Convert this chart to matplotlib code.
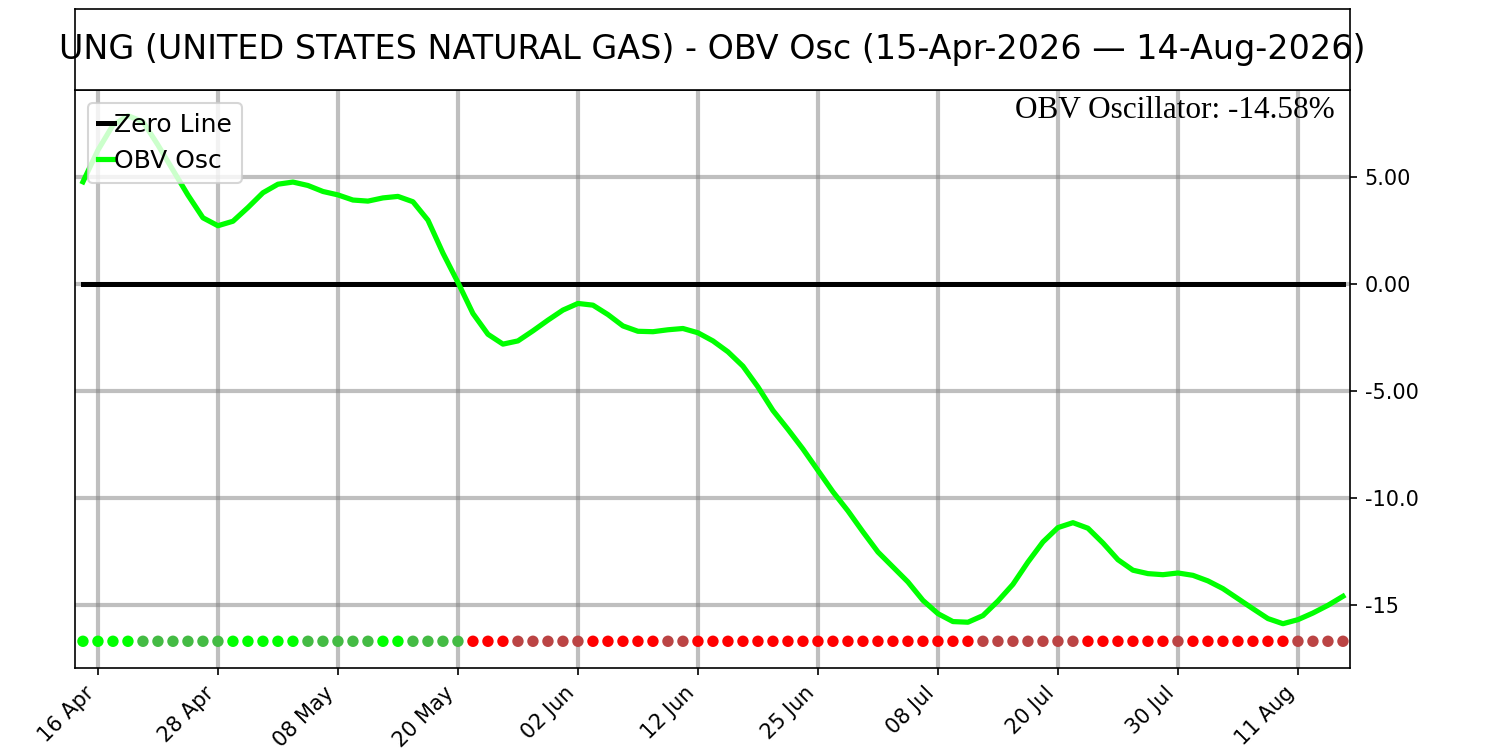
import numpy as np
import pandas as pd
import matplotlib
matplotlib.use("Agg")
import matplotlib.pyplot as plt

# ---- data ----
start_date = "2026-04-15"
end_date = "2026-08-14"
holidays = ["2026-05-25", "2026-06-19", "2026-07-03"]

obv_osc = [
    4.78, 6.26, 7.43, 7.87, 7.59, 6.50, 5.33, 4.16, 3.10, 2.73,
    2.94, 3.58, 4.27, 4.67, 4.77, 4.61, 4.33, 4.17, 3.93, 3.88,
    4.03, 4.10, 3.85, 2.99, 1.45, 0.08, -1.37, -2.34, -2.80, -2.65,
    -2.18, -1.68, -1.21, -0.90, -0.98, -1.42, -1.95, -2.20, -2.22, -2.13,
    -2.07, -2.27, -2.65, -3.16, -3.83, -4.80, -5.90, -6.78, -7.70, -8.70,
    -9.70, -10.59, -11.57, -12.51, -13.21, -13.91, -14.77, -15.39, -15.76, -15.79,
    -15.48, -14.80, -14.02, -12.98, -12.04, -11.37, -11.14, -11.40, -12.09, -12.87,
    -13.36, -13.52, -13.57, -13.49, -13.60, -13.86, -14.22, -14.69, -15.16, -15.62,
    -15.86, -15.67, -15.36, -15.00, -14.58,
]

ytick_values = [5, 0, -5, -10, -15]
ytick_labels = ["5.00", "0.00", "-5.00", "-10.0", "-15"]
title_text = "UNG (UNITED STATES NATURAL GAS) - OBV Osc (15-Apr-2026 \u2014 14-Aug-2026)"
annot_text = "OBV Oscillator: -14.58%"

# ---- derived ----
dates = pd.bdate_range(start_date, end_date, freq="C", holidays=holidays)
n = len(obv_osc)
x = np.arange(n)
vals = np.array(obv_osc)

colors = []
for i, v in enumerate(vals):
    rising = True if i == 0 else v >= vals[i - 1]
    if v >= 0:
        colors.append("#00ff00" if rising else "#44bb44")
    else:
        colors.append("#bb4444" if rising else "#ff0000")

tick_idx = list(range(1, n, 8))
tick_lbls = [dates[i].strftime("%d %b") for i in tick_idx]

# ---- figure ----
fig = plt.figure(figsize=(10, 5), dpi=150)
ax = fig.add_axes([0.05, 0.109, 0.85, 0.771])
tax = fig.add_axes([0.05, 0.88, 0.85, 0.108])

tax.set_xticks([])
tax.set_yticks([])
tax.text(0.5, 0.5, title_text, ha="center", va="center", fontsize=16,
         transform=tax.transAxes)

ax.grid(True, color="gray", alpha=0.5, linewidth=2)
ax.set_axisbelow(True)
ax.plot(x, np.zeros(n), color="black", linewidth=2.4, label="Zero Line", zorder=3)
ax.plot(x, vals, color="#00ff00", linewidth=2.5, label="OBV Osc", zorder=4)
ax.scatter(x, np.full(n, -16.68), c=colors, s=30, linewidths=0, zorder=5)

ax.set_xlim(-0.53, n - 1 + 0.47)
ax.set_ylim(-17.94, 9.07)
ax.set_xticks(tick_idx)
ax.set_xticklabels(tick_lbls, rotation=45, ha="right", fontsize=10)
ax.yaxis.tick_right()
ax.set_yticks(ytick_values)
ax.set_yticklabels(ytick_labels, fontsize=10)

ax.legend(loc="upper left", fontsize=12, handlelength=0.65, handletextpad=0.0,
          borderpad=0.4, labelspacing=0.5)
ax.text(0.988, 0.99, annot_text, transform=ax.transAxes, ha="right", va="top",
        fontsize=15, family=["Liberation Serif", "DejaVu Serif"])

fig.savefig("out.png", dpi=150)
